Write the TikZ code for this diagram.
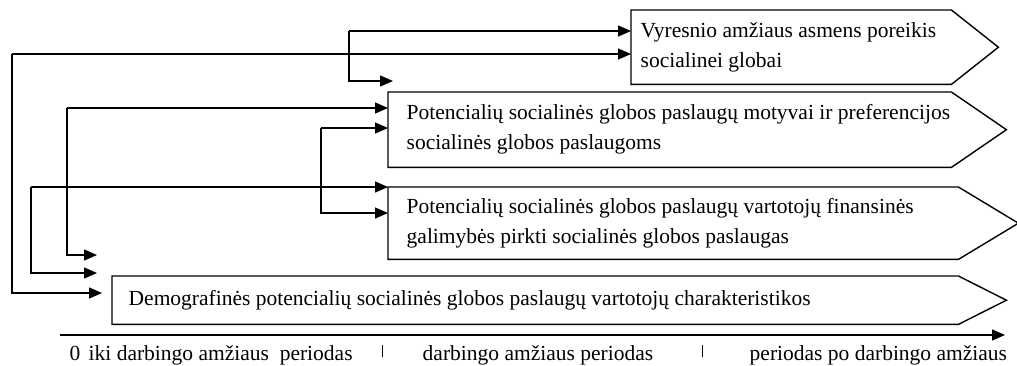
\documentclass[tikz,border=0pt]{standalone}
\usepackage{fontspec}
\setmainfont{Liberation Serif}
\usetikzlibrary{arrows.meta}
\tikzstyle{stage}=[inner sep=0pt, anchor=north west]
\tikzstyle{caption}=[inner sep=0pt, anchor=west, align=left, font=\fontsize{21.5}{30}\selectfont]
\tikzstyle{period}=[inner sep=0pt, anchor=base west, font=\fontsize{21.5}{24}\selectfont]
\tikzstyle{link}=[-{Triangle[length=13pt, width=11pt]}]

\begin{document}
\begin{tikzpicture}[x=1pt, y=-1pt, line width=1.4pt]
                \useasboundingbox (0,0) rectangle (1017,365);
                % blocks
                \node[stage, minimum width=319, minimum height=73] (vyr) at (631, 10) {};
                \node[stage, minimum width=562, minimum height=74] (mot) at (388, 92) {};
                \node[stage, minimum width=569, minimum height=71] (fin) at (388, 187) {};
                \node[stage, minimum width=845, minimum height=47] (dem) at (112, 276) {};
                \foreach \n/\tip in {vyr/47, mot/55, fin/60, dem/48}
                    \draw (\n.north west) -- (\n.north east) -- ([xshift=\tip pt]\n.east)
                        -- (\n.south east) -- (\n.south west) -- cycle;
                \node[caption] (vyr-t) at ([xshift=9pt]vyr.west) {Vyresnio amžiaus asmens poreikis\\socialinei globai};
                \node[caption] (mot-t) at ([xshift=18pt]mot.west) {Potencialių socialinės globos paslaugų motyvai ir preferencijos\\socialinės globos paslaugoms};
                \node[caption] (fin-t) at ([xshift=18pt]fin.west) {Potencialių socialinės globos paslaugų vartotojų finansinės\\galimybės pirkti socialinės globos paslaugas};
                \node[caption] (dem-t) at ([xshift=16pt]dem.west) {Demografinės potencialių socialinės globos paslaugų vartotojų charakteristikos};
                % connectors
                \coordinate (a0) at (349, 31);
                \coordinate (a1) at (393, 81);
                \draw[link] (a0) -- (a0 -| vyr.west);
                \draw[link] (a0) |- (a1);
                \coordinate (b0) at (12, 54);
                \coordinate (b1) at (102, 293);
                \draw[link] (b0) -- (b0 -| vyr.west);
                \draw[link] (b0) |- (b1);
                \coordinate (c0) at (67, 108);
                \coordinate (c1) at (97, 255);
                \draw[link] (c0) -- (c0 -| mot.west);
                \draw[link] (c0) |- (c1);
                \coordinate (d0) at (321, 128);
                \coordinate (d1) at (321, 213);
                \draw[link] (d0) -- (d0 -| mot.west);
                \draw[link] (d0) -- (d1) -- (d1 -| fin.west);
                \coordinate (e0) at (31, 187);
                \coordinate (e1) at (97, 273);
                \draw[link] (e0) -- (e0 -| fin.west);
                \draw[link] (e0) |- (e1);
                % time axis
                \coordinate (t0) at (60, 335);
                \coordinate (t1) at (1005, 335);
                \draw[link] (t0) -- (t1);
                \node[period] (zero) at (69, 360) {0};
                \node[period] (p1) at (88, 360) {iki darbingo amžiaus~ periodas};
                \node[period] (p2) at (422, 360) {darbingo amžiaus periodas};
                \node[period] (p3) at (749, 360) {periodas po darbingo amžiaus};
                \coordinate (s1) at (382, 345);
                \coordinate (s2) at (702, 345);
                \draw[line width=0.9pt] (s1) -- ++(0, 12);
                \draw[line width=0.9pt] (s2) -- ++(0, 12);
            \end{tikzpicture}
\end{document}
